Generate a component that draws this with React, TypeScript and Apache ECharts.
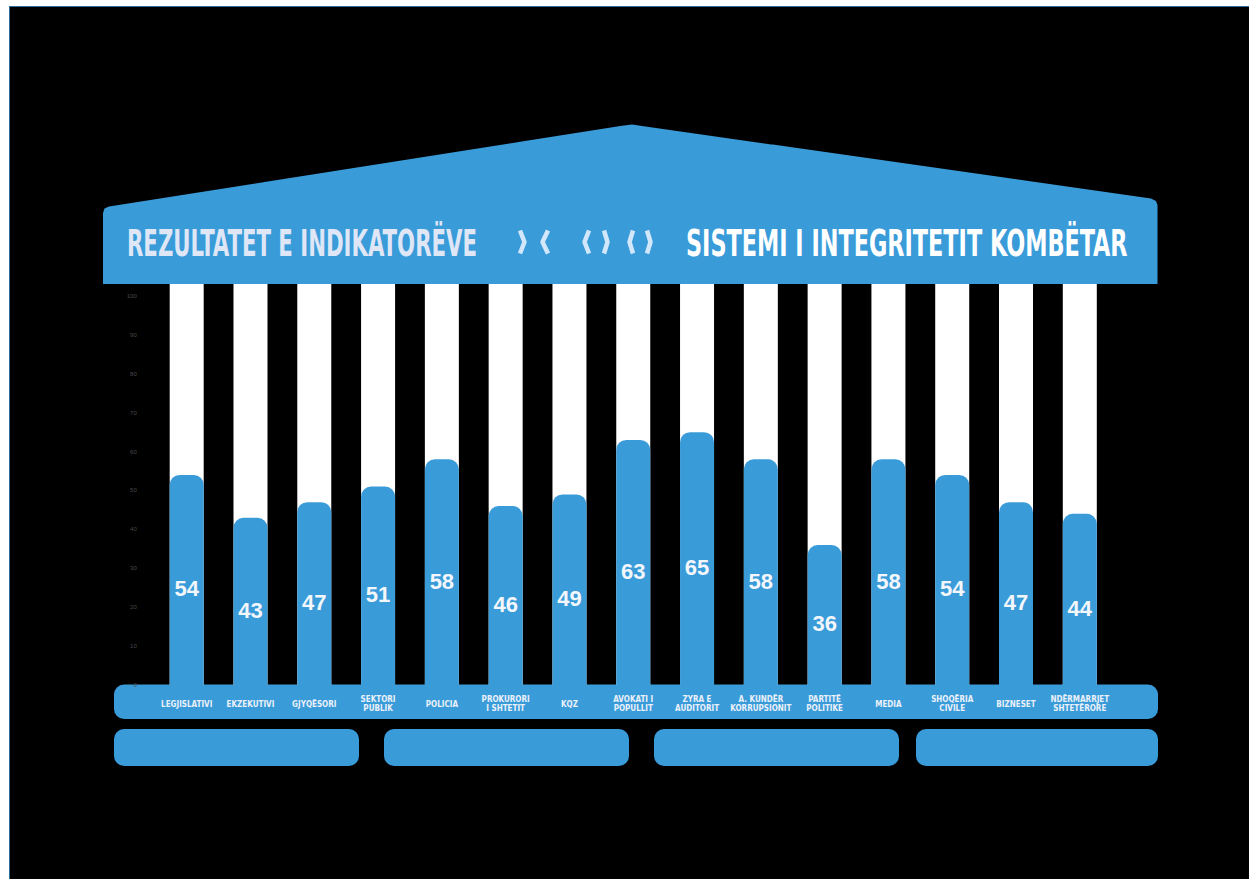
import React, { useEffect, useRef } from 'react';
import * as echarts from 'echarts';

const categories = [
  'LEGJISLATIVI',
  'EKZEKUTIVI',
  'GJYQËSORI',
  'SEKTORI\nPUBLIK',
  'POLICIA',
  'PROKURORI\nI SHTETIT',
  'KQZ',
  'AVOKATI I\nPOPULLIT',
  'ZYRA E\nAUDITORIT',
  'A. KUNDËR\nKORRUPSIONIT',
  'PARTITË\nPOLITIKE',
  'MEDIA',
  'SHOQËRIA\nCIVILE',
  'BIZNESET',
  'NDËRMARRJET\nSHTETËRORE',
];
const scores = [54, 43, 47, 51, 58, 46, 49, 63, 65, 58, 36, 58, 54, 47, 44];
const yTickValues = [0, 10, 20, 30, 40, 50, 60, 70, 80, 90, 100];
const titleLeft = 'REZULTATET E INDIKATORËVE';
const titleRight = 'SISTEMI I INTEGRITETIT KOMBËTAR';

const BLUE = '#3a9bd9';
const NARROW = '"Liberation Sans Narrow", "DejaVu Sans Condensed", "Roboto", sans-serif';
const OX = 10;
const OY = 7;

function measure(text: string, font: string): number {
  const ctx = document.createElement('canvas').getContext('2d');
  if (!ctx) return text.length * 20;
  ctx.font = font;
  return ctx.measureText(text).width;
}

export default function App() {
  const ref = useRef<HTMLDivElement>(null);
  useEffect(() => {
    if (!ref.current) return;
    const chart = echarts.init(ref.current, null, { renderer: 'svg' });

    const titleSize = 38;
    const titleFont = `bold ${titleSize}px ${NARROW}`;
    const sLeft = 350 / measure(titleLeft, titleFont);
    const sRight = 442 / measure(titleRight, titleFont);

    const P = (x: number, y: number) => [x - OX, y - OY];

    const chevrons: Array<[string, number, number]> = [
      ['r', 518, 527],
      ['l', 540, 550],
      ['l', 582, 591],
      ['r', 602, 610],
      ['l', 627, 635],
      ['r', 645, 653],
    ];
    const chevronEls = chevrons.map(([d, a, b]) => {
      const top = 230.5;
      const bot = 253.5;
      const mid = (top + bot) / 2;
      const pts =
        d === 'r'
          ? [P(a + 2, top), P(b - 2.5, mid), P(a + 2, bot)]
          : [P(b - 2, top), P(a + 2.5, mid), P(b - 2, bot)];
      return {
        type: 'polyline',
        z: 7,
        shape: { points: pts },
        style: { stroke: '#d3e7fb', lineWidth: 4.5, fill: null, lineJoin: 'bevel', lineCap: 'butt' },
      };
    });

    const bottomBlocks: Array<[number, number]> = [
      [114, 245],
      [384, 245],
      [654, 245],
      [916, 242],
    ];

    const graphic: any[] = [
      {
        type: 'polygon',
        z: 5,
        shape: {
          points: [
            P(103, 284),
            P(103, 213),
            P(104.5, 208.5),
            P(109, 206.5),
            P(622, 125.8),
            P(632, 124.5),
            P(642, 126),
            P(1151, 198.5),
            P(1156, 201),
            P(1157.5, 205),
            P(1157.5, 284),
          ],
        },
        style: { fill: BLUE },
      },
      {
        type: 'text',
        z: 7,
        x: 127 - OX,
        y: 243 - OY,
        scaleX: sLeft,
        style: {
          text: titleLeft,
          fill: '#dfe6f6',
          fontSize: titleSize,
          fontWeight: 'bold',
          fontFamily: NARROW,
          align: 'left',
          verticalAlign: 'middle',
        },
      },
      {
        type: 'text',
        z: 7,
        x: 686 - OX,
        y: 243 - OY,
        scaleX: sRight,
        style: {
          text: titleRight,
          fill: '#ffffff',
          fontSize: titleSize,
          fontWeight: 'bold',
          fontFamily: NARROW,
          align: 'left',
          verticalAlign: 'middle',
        },
      },
      ...chevronEls,
      {
        type: 'rect',
        z: 1,
        shape: { x: 114 - OX, y: 684.5 - OY, width: 1044, height: 34.5, r: 10 },
        style: { fill: BLUE },
      },
      ...bottomBlocks.map(([x, w]) => ({
        type: 'rect',
        z: 1,
        shape: { x: x - OX, y: 729 - OY, width: w, height: 37, r: 10 },
        style: { fill: BLUE },
      })),
    ];

    const option: any = {
      animation: false,
      backgroundColor: '#000000',
      grid: {
        left: 154.8 - OX,
        top: 284 - OY,
        width: 956.9,
        height: 401,
        containLabel: false,
      },
      xAxis: {
        type: 'category',
        data: categories,
        z: 10,
        axisLine: { show: false },
        axisTick: { show: false },
        axisLabel: {
          interval: 0,
          margin: 19,
          verticalAlign: 'middle',
          color: '#eaf1fa',
          fontSize: 8,
          lineHeight: 8.5,
          fontWeight: 'bold',
          fontFamily: NARROW,
        },
      },
      yAxis: {
        type: 'value',
        min: 0,
        max: 103.08,
        z: 10,
        splitLine: { show: false },
        axisLine: { show: false },
        axisTick: { show: false },
        axisLabel: {
          customValues: yTickValues,
          margin: 18,
          color: '#4a4a4a',
          fontSize: 6,
          fontFamily: 'Liberation Sans, sans-serif',
        },
      },
      series: [
        {
          type: 'bar',
          data: scores,
          barWidth: 34,
          showBackground: true,
          backgroundStyle: { color: '#ffffff' },
          itemStyle: { color: BLUE, borderRadius: [10, 10, 0, 0] },
          label: {
            show: true,
            position: 'inside',
            offset: [0, 9],
            color: '#f3f7fc',
            fontSize: 22,
            fontWeight: 'bold',
            fontFamily: '"Liberation Sans", Arial, sans-serif',
          },
        },
      ],
      graphic,
    };
    chart.setOption(option);
    return () => chart.dispose();
  }, []);

  return (
    <div
      style={{
        position: 'fixed',
        left: 9,
        top: 6,
        width: 1240,
        height: 873,
        boxSizing: 'border-box',
        borderTop: '1px solid #2d6f9a',
        borderLeft: '1px solid #2d6f9a',
        background: '#000',
      }}
    >
      <div ref={ref} style={{ width: '100%', height: '100%' }} />
    </div>
  );
}
